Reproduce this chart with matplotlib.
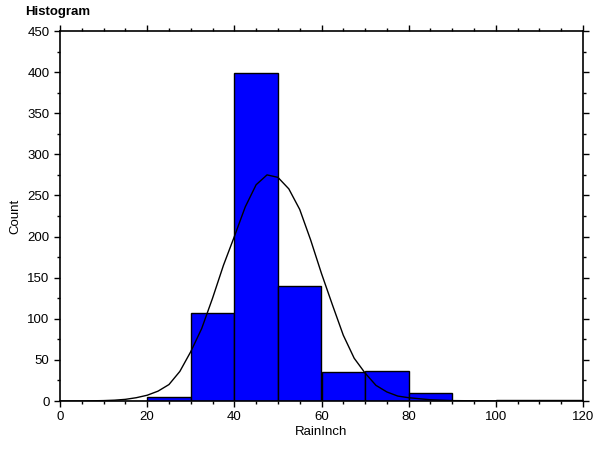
import matplotlib
matplotlib.use("Agg")
import matplotlib.pyplot as plt
from matplotlib.ticker import MultipleLocator

plt.rcParams['font.family'] = ['Liberation Sans', 'DejaVu Sans']

# Histogram data
bin_edges = [0, 10, 20, 30, 40, 50, 60, 70, 80, 90, 100, 110, 120]
counts = [0, 0, 5, 107, 399, 140, 35, 36, 10, 0, 1, 1]

# Fitted normal curve
curve_x = [0, 5, 10, 12.5, 15, 17.5, 20, 22.5, 25, 27.5, 30, 32.5, 35, 37.5, 40,
           42.5, 45, 47.5, 50, 52.5, 55, 57.5, 60, 62.5, 65, 67.5, 70,
           72.5, 75, 77.5, 80, 85, 90, 100, 120]
curve_y = [0, 0, 0.5, 1, 2, 4, 7, 12, 20, 36, 60, 88, 125, 165, 200,
           236, 263, 275, 272, 258, 233, 196, 155, 117, 80, 52, 34,
           19, 11, 6, 4, 1.5, 0.5, 0, 0]

fig = plt.figure(figsize=(5.94, 4.5), dpi=100)
ax = fig.add_axes([60/594, 1 - 401/450, (583 - 60)/594, (401 - 31)/450])

lefts = bin_edges[:-1]
widths = [b - a for a, b in zip(bin_edges[:-1], bin_edges[1:])]
ax.bar(lefts, counts, width=widths, align='edge', color='#0000FF',
       edgecolor='black', linewidth=1.0, zorder=2)
ax.plot(curve_x, curve_y, color='black', linewidth=1.0, zorder=3)

ax.set_xlim(0, 120)
ax.set_ylim(0, 450)
ax.xaxis.set_major_locator(MultipleLocator(20))
ax.xaxis.set_minor_locator(MultipleLocator(5))
ax.yaxis.set_major_locator(MultipleLocator(50))
ax.yaxis.set_minor_locator(MultipleLocator(25))
ax.tick_params(which='both', direction='out', top=True, right=True,
               labeltop=False, labelright=False, labelsize=9.5, color='black')
ax.tick_params(which='major', length=4, width=1)
ax.tick_params(which='minor', length=2.5, width=1)
for s in ax.spines.values():
    s.set_linewidth(1.2)

ax.set_xlabel('RainInch', fontsize=9.5, labelpad=2)
ax.set_ylabel('Count', fontsize=9.5, labelpad=4)
fig.text(25/594, 1 - 12/450, 'Histogram', fontsize=9.5, fontweight='bold',
         ha='left', va='center')

fig.savefig('out.png', dpi=100)
